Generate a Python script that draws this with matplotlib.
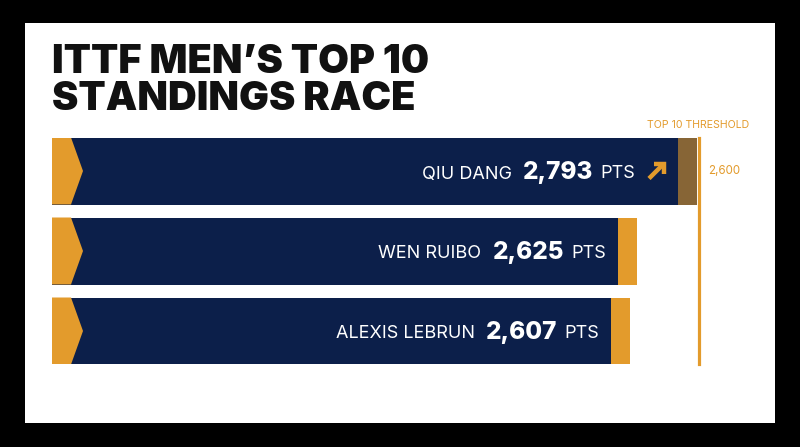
import matplotlib.pyplot as plt
from matplotlib.patches import Rectangle, Polygon
from matplotlib.offsetbox import TextArea, HPacker, AnnotationBbox

players = ["QIU DANG", "WEN RUIBO", "ALEXIS LEBRUN"]
points = [2793, 2625, 2607]
labels = ["2,793", "2,625", "2,607"]
rising = [True, False, False]
threshold_label = "2,600"

NAVY = "#0c1f4a"
ORANGE = "#e39b2c"
BROWN = "#876536"

W, H = 800, 447
fig = plt.figure(figsize=(8, 4.47), dpi=100, facecolor="black")
# white card
fig.patches.append(Rectangle((25 / W, 1 - 423 / H), 750 / W, 400 / H,
                             transform=fig.transFigure, facecolor="white",
                             edgecolor="none", zorder=-5))

fig.text(52 / W, 1 - 73 / H, "ITTF MEN’S TOP 10", fontsize=28.6,
         family=["Inter", "DejaVu Sans"], weight="black", color="#111111",
         va="baseline")
fig.text(52 / W, 1 - 110 / H, "STANDINGS RACE", fontsize=28.6,
         family=["Inter", "DejaVu Sans"], weight="black", color="#111111",
         va="baseline")

ax = fig.add_axes([52 / W, 1 - 364 / H, 645 / W, 226 / H])
ax.set_zorder(2)
ax.set_facecolor("none")
xmin = 991
ax.set_xlim(xmin, max(points))
ax.set_ylim(len(players) - 1 + 0.4125, -0.4125)
ax.axis("off")

k = 645 / (max(points) - xmin)  # px per point
cap = 19 / k
tip = 31 / k
h = 67 / 80
py = 1 / 80  # one pixel in y data units

for i, (name, val, lab, up) in enumerate(zip(players, points, labels, rising)):
    ax.barh(i, val - xmin, left=xmin, height=h, color=NAVY, zorder=1)
    ax.barh(i, cap, left=val - cap, height=h,
            color=BROWN if up else ORANGE, zorder=2)
    ax.add_patch(Polygon([(xmin, i - h / 2), (xmin + cap, i - h / 2),
                          (xmin + tip, i), (xmin + cap, i + h / 2),
                          (xmin, i + h / 2)], closed=True,
                         facecolor=ORANGE, edgecolor="none", zorder=3))
    name_box = TextArea(name, textprops=dict(color="white", fontsize=13,
                                             family="Inter"))
    score_box = TextArea(lab, textprops=dict(color="white", fontsize=17.5,
                                             family="Inter", weight="heavy"))
    pts_box = TextArea("PTS", textprops=dict(color="white", fontsize=13,
                                             family="Inter"))
    box = HPacker(children=[HPacker(children=[name_box, score_box],
                                    align="baseline", pad=0, sep=8),
                            pts_box], align="baseline", pad=0, sep=5)
    right = val - cap - 12 / k
    if up:
        # rising arrow: shaft plus open head
        tx, ty = val - cap - 14 / k, i - 7.5 * py
        ax.plot([tx - 15 / k, tx - 1 / k], [ty + 15 * py, ty + 1 * py],
                color=ORANGE, lw=3.2, solid_capstyle="butt", zorder=4)
        ax.plot([tx - 10 / k, tx, tx], [ty, ty, ty + 10 * py],
                color=ORANGE, lw=3.2, solid_capstyle="butt",
                solid_joinstyle="miter", zorder=4)
        right -= 31 / k
    ab = AnnotationBbox(box, (right, i + 1 * py), xycoords="data",
                        box_alignment=(1, 0.5), frameon=False, pad=0,
                        zorder=4)
    ax.add_artist(ab)

# threshold line
ax.plot([1 + 1.5 / 645, 1 + 1.5 / 645], [0, 1], transform=ax.transAxes,
        color=ORANGE, lw=2.3, clip_on=False, zorder=5)
fig.text(698 / W, 1 - 125 / H, "TOP 10 THRESHOLD", fontsize=7.6,
         family="Inter", color=ORANGE, ha="center", va="center")
fig.text(708 / W, 1 - 171.5 / H, threshold_label, fontsize=8.3,
         family="Inter", color=ORANGE, ha="left", va="center")

fig.savefig("out.png", dpi=100, facecolor="black")
